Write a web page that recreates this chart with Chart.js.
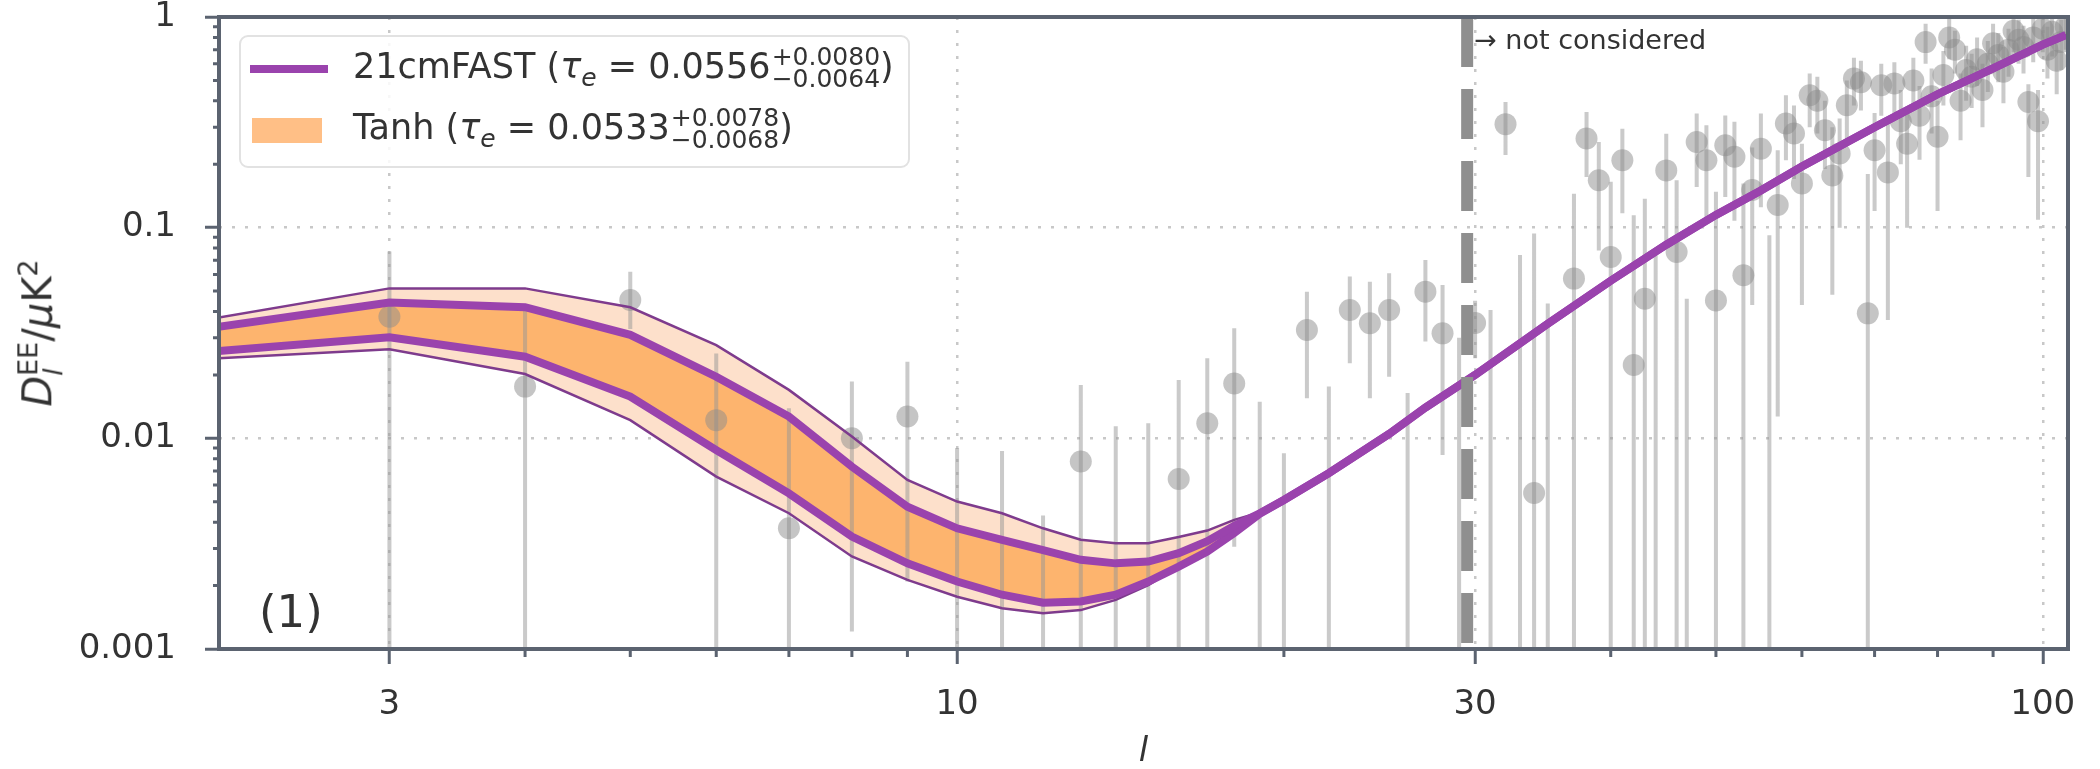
<!DOCTYPE html>
<html>
<head>
<meta charset="utf-8">
<script src="https://cdn.jsdelivr.net/npm/chart.js@4.4.1/dist/chart.umd.min.js"></script>
<style>
  html, body { margin: 0; padding: 0; background: #fff; }
  #marco { position: relative; width: 2100px; height: 769px; overflow: hidden; }
  #grafico { position: absolute; left: 0; top: 0; }
  .txt { position: absolute; font-family: 'DejaVu Sans'; color: #333; white-space: nowrap; line-height: 1.2; }
  #leyenda { position: absolute; width: 671px; height: 133px; box-sizing: border-box;
             border: 2px solid #e2e2e2; border-radius: 9px; background: rgba(255,255,255,0.85); }
  .fila { position: absolute; left: 0; height: 60px; display: flex; align-items: center;
          font-family: 'DejaVu Sans'; font-size: 35px; color: #333; white-space: nowrap; }
  .linea { display: inline-block; width: 78px; height: 8px; background: #9a43ad; margin: 0 25px 0 9px; }
  .parche { display: inline-block; width: 70px; height: 25px; background: #ffbf86; margin: 0 31px 0 11px; }
  .pm { display: inline-flex; flex-direction: column; font-size: 25px; line-height: 22px;
        vertical-align: middle; margin-left: 1px; }
  sub { font-size: 25px; }
  #ytitulo { position: absolute; font-family: 'DejaVu Sans'; font-size: 40px; color: #333; white-space: nowrap;
             transform: translate(-50%, -50%) rotate(-90deg); line-height: 1; }
  .pila { display: inline-flex; flex-direction: column; font-size: 27px; line-height: 25px; vertical-align: middle; }
  #ytitulo sup { font-size: 27px; }
</style>
</head>
<body>
<div id="marco">
  <canvas id="grafico" width="2100" height="769"></canvas>
  <div id="leyenda">
    <div class="fila" style="top:2px"><span class="linea"></span><span>21cmFAST (<i>τ</i><sub><i>e</i></sub> = 0.0556<span class="pm"><span>+0.0080</span><span>−0.0064</span></span>)</span></div>
    <div class="fila" style="top:63px"><span class="parche"></span><span>Tanh (<i>τ</i><sub><i>e</i></sub> = 0.0533<span class="pm"><span>+0.0078</span><span>−0.0068</span></span>)</span></div>
  </div>
  <div id="ytitulo"><i>D</i><span class="pila"><span>EE</span><span><i>l</i></span></span>/<i>μ</i>K<sup>2</sup></div>
  <div class="txt" id="nota" style="font-size:27px">→ not considered</div>
  <div class="txt" id="panel" style="font-size:45px">(1)</div>
</div>
<script>
// Modelos: multipolos y bandas (limites interiores = lineas gruesas, exteriores = lineas finas)
const modeloL = [2, 3, 4, 5, 6, 7, 8, 9, 10, 11, 12, 13, 14, 15, 16, 17, 18, 19, 20, 22, 25, 27, 30, 35, 40, 45, 50, 55, 60, 70, 80, 90, 100, 105];
const interiorAlto = [0.0328, 0.0441, 0.0419, 0.0310, 0.0196, 0.01268, 0.00734, 0.00474, 0.00374, 0.00330, 0.00295, 0.00265, 0.00255, 0.00260, 0.00285, 0.00325, 0.00385, 0.00441, 0.0051, 0.00683, 0.0105, 0.0140, 0.0200, 0.035, 0.056, 0.083, 0.115, 0.150, 0.195, 0.30, 0.43, 0.57, 0.74, 0.82];
const interiorBajo = [0.0255, 0.0302, 0.0244, 0.0158, 0.0088, 0.00548, 0.00342, 0.00255, 0.00209, 0.00181, 0.00166, 0.00168, 0.00181, 0.00209, 0.00246, 0.00290, 0.00355, 0.00438, 0.0051, 0.00683, 0.0105, 0.0140, 0.0200, 0.035, 0.056, 0.083, 0.115, 0.150, 0.195, 0.30, 0.43, 0.57, 0.74, 0.82];
const exteriorAlto = [0.0360, 0.0515, 0.0515, 0.0419, 0.0277, 0.01698, 0.01019, 0.00635, 0.00501, 0.00441, 0.00374, 0.00330, 0.00318, 0.00318, 0.00340, 0.00365, 0.0041, 0.00445, 0.0051, 0.00683, 0.0105, 0.0140, 0.0200, 0.035, 0.056, 0.083, 0.115, 0.150, 0.195, 0.30, 0.43, 0.57, 0.74, 0.82];
const exteriorBajo = [0.0237, 0.0265, 0.0202, 0.0122, 0.00658, 0.00441, 0.00275, 0.00213, 0.00177, 0.00156, 0.00148, 0.00153, 0.00171, 0.00201, 0.00246, 0.00290, 0.00355, 0.00438, 0.0051, 0.00683, 0.0105, 0.0140, 0.0200, 0.035, 0.056, 0.083, 0.115, 0.150, 0.195, 0.30, 0.43, 0.57, 0.74, 0.82];

// Datos medidos (null = punto fuera del grafico); PISO = barra que sigue por debajo del eje
const PISO = 1e-4;
const puntosL = [3, 4, 5, 6, 7, 8, 9, 10, 11, 12, 13, 14, 15, 16, 17, 18, 19, 20, 21, 22, 23, 24, 25, 26, 27, 28, 29, 30, 31, 32, 33, 34, 35,
  37, 38, 39, 40, 41, 42, 43, 44, 45, 46, 47, 48, 49, 50, 51, 52, 53, 54, 55, 56, 57, 58, 59, 60, 61, 62, 63, 64, 65, 66, 67, 68, 69, 70,
  71, 72, 73, 74, 75, 76, 77, 78, 79, 80, 81, 82, 83, 84, 85, 86, 87, 88, 89, 90, 91, 92, 93, 94, 95, 96, 97, 98, 99, 100, 101, 102, 103, 104, 105];
const puntosVal = [0.0378, 0.0176, 0.0454, 0.0122, 0.00374, 0.0100, 0.0127, null, null, null, 0.00776, null, null, 0.00641, 0.0118, 0.0182, null, null, 0.0327, null, 0.0407, 0.0352, 0.0407, null, 0.0497, 0.0315, null, 0.0353, null, 0.31, null, 0.0055, null,
  0.0573, 0.265, 0.168, 0.0726, 0.209, 0.0223, 0.046, null, 0.187, 0.0767, null, 0.255, 0.209, 0.0451, 0.246, 0.217, 0.0594, 0.151, 0.237, null, 0.128, 0.312, 0.28, 0.162, 0.425, 0.40, 0.29, 0.177, 0.225, 0.381, 0.51, 0.49, 0.0392, 0.233,
  0.474, 0.183, 0.483, 0.32, 0.25, 0.50, 0.34, 0.76, 0.42, 0.27, 0.53, 0.80, 0.70, 0.40, 0.56, 0.52, 0.63, 0.45, 0.60, 0.75, 0.66, 0.55, 0.70, 0.86, 0.78, 0.72, 0.395, 0.80, 0.32, 0.88, 0.70, 0.85, 0.62, 0.76, 0.90];
const puntosAlto = [0.077, 0.042, 0.0618, 0.0253, 0.0139, 0.0186, 0.0231, 0.0090, 0.0087, 0.0043, 0.0179, 0.0114, 0.0118, 0.0189, 0.024, 0.0333, 0.0149, 0.0085, 0.0497, 0.0176, 0.0586, 0.0554, 0.0607, 0.0164, 0.0703, 0.0535, 0.030, 0.045, 0.0407, 0.395, 0.0741, 0.0937, 0.0436,
  0.145, 0.354, 0.255, 0.165, 0.295, 0.1145, 0.137, 0.074, 0.279, 0.168, 0.046, 0.348, 0.306, 0.148, 0.341, 0.318, 0.162, 0.24, 0.348, 0.092, 0.233, 0.425, 0.38, 0.25, 0.54, 0.52, 0.40, 0.30, 0.33, 0.50, 0.64, 0.62, 0.18, 0.35,
  0.60, 0.33, 0.61, 0.45, 0.37, 0.64, 0.47, 0.93, 0.57, 0.40, 0.69, 0.98, 0.86, 0.54, 0.73, 0.67, 0.80, 0.60, 0.77, 0.93, 0.84, 0.72, 0.88, 1.05, 0.97, 0.91, 0.48, 1.0, 0.45, 1.08, 0.90, 1.06, 0.82, 0.97, 1.1];
const puntosBajo = [PISO, PISO, 0.033, PISO, PISO, 0.00121, 0.00209, PISO, PISO, PISO, PISO, PISO, PISO, PISO, PISO, 0.00306, PISO, PISO, 0.0155, PISO, 0.0227, 0.0155, 0.0196, PISO, 0.0288, 0.00834, PISO, 0.024, PISO, 0.221, PISO, PISO, PISO,
  PISO, 0.174, 0.078, PISO, 0.117, PISO, PISO, PISO, 0.081, PISO, PISO, 0.156, 0.1045, PISO, 0.140, 0.108, PISO, 0.043, 0.125, PISO, 0.0127, 0.209, 0.17, 0.043, 0.30, 0.28, 0.19, 0.048, 0.10, 0.26, 0.38, 0.36, PISO, 0.12,
  0.34, 0.0365, 0.35, 0.20, 0.10, 0.37, 0.21, 0.60, 0.28, 0.12, 0.38, 0.63, 0.54, 0.26, 0.40, 0.37, 0.47, 0.30, 0.44, 0.58, 0.49, 0.39, 0.52, 0.68, 0.60, 0.54, 0.174, 0.61, 0.109, 0.68, 0.51, 0.65, 0.43, 0.56, 0.70];

// Ejes
const corteL = 29.5;
const xTicks = [3, 10, 30, 100];
const xEtiquetas = ['3', '10', '30', '100'];
const xMenores = [4, 5, 6, 7, 8, 9, 20, 40, 50, 60, 70, 80, 90];
const yTicks = [1, 0.1, 0.01, 0.001];
const yEtiquetas = ['1', '0.1', '0.01', '0.001'];
const yMenores = [0.002, 0.003, 0.004, 0.005, 0.006, 0.007, 0.008, 0.009,
  0.02, 0.03, 0.04, 0.05, 0.06, 0.07, 0.08, 0.09,
  0.2, 0.3, 0.4, 0.5, 0.6, 0.7, 0.8, 0.9];

const colorEje = '#5b6370';
const morado = '#9a43ad';
const moradoFino = '#7e3b8d';

function serie(ls, vals) {
  return ls.map((l, i) => ({ x: l, y: vals[i] }));
}

// barras de error: segmentos separados por huecos
const datosBarras = [];
puntosL.forEach((l, i) => {
  if (puntosAlto[i] === null) return;
  datosBarras.push({ x: l, y: puntosBajo[i] }, { x: l, y: puntosAlto[i] }, { x: l, y: null });
});

function linea(datos, color, ancho, orden, extra) {
  return Object.assign({ data: datos, borderColor: color, borderWidth: ancho, pointRadius: 0, fill: false, order: orden, clip: 0 }, extra || {});
}

// ticks menores y marco del grafico
const marcoPlugin = {
  id: 'marco',
  afterDraw(chart) {
    const { ctx, chartArea: a, scales: { x, y } } = chart;
    ctx.save();
    ctx.strokeStyle = colorEje;
    ctx.lineWidth = 3;
    ctx.beginPath();
    for (const v of xMenores) {
      const px = x.getPixelForValue(v);
      ctx.moveTo(px, a.bottom);
      ctx.lineTo(px, a.bottom + 8);
    }
    for (const v of yMenores) {
      const py = y.getPixelForValue(v);
      ctx.moveTo(a.left, py);
      ctx.lineTo(a.left - 6, py);
    }
    ctx.stroke();
    ctx.lineWidth = 4;
    ctx.strokeRect(a.left, a.top, a.right - a.left, a.bottom - a.top);
    ctx.restore();
  }
};

const ctx = document.getElementById('grafico').getContext('2d');
const chart = new Chart(ctx, {
  type: 'line',
  data: {
    datasets: [
      linea([{ x: corteL, y: 1 }, { x: corteL, y: PISO }], '#8f8f8f', 12, 0, { borderDash: [50, 22] }),
      linea(serie(modeloL, interiorAlto), morado, 8, 1),
      linea(serie(modeloL, interiorBajo), morado, 8, 1),
      linea(serie(modeloL, exteriorAlto), moradoFino, 2.5, 2),
      linea(serie(modeloL, exteriorBajo), moradoFino, 2.5, 2),
      linea(serie(puntosL, puntosVal), 'transparent', 0, 3, {
        showLine: false, pointRadius: 11, pointBackgroundColor: 'rgba(140,140,140,0.5)', pointBorderColor: 'transparent', pointBorderWidth: 0
      }),
      linea(datosBarras, 'rgba(150,150,150,0.5)', 4, 4, { spanGaps: false }),
      linea(serie(modeloL, interiorAlto), 'transparent', 0, 5, { fill: '+1', backgroundColor: '#fdb46e' }),
      linea(serie(modeloL, interiorBajo), 'transparent', 0, 5),
      linea(serie(modeloL, exteriorAlto), 'transparent', 0, 6, { fill: '+1', backgroundColor: '#fde0cb' }),
      linea(serie(modeloL, exteriorBajo), 'transparent', 0, 6)
    ]
  },
  options: {
    responsive: false,
    animation: false,
    devicePixelRatio: 1,
    layout: { padding: { left: 0, right: 32, top: 17, bottom: 0 } },
    plugins: { legend: { display: false }, tooltip: { enabled: false } },
    scales: {
      x: {
        type: 'logarithmic', min: 2.09, max: 105.5,
        afterBuildTicks: eje => { eje.ticks = xTicks.map(v => ({ value: v })); },
        afterFit: eje => { eje.height = 120; eje.paddingLeft = 0; eje.paddingRight = 0; },
        ticks: {
          callback: (v, i) => xEtiquetas[i], autoSkip: false, maxRotation: 0,
          font: { family: 'DejaVu Sans', size: 34 }, color: '#333', padding: 21
        },
        grid: { color: '#c8c8c8', lineWidth: 2.5, tickLength: 15, tickColor: colorEje, tickWidth: 3 },
        border: { display: false, dash: [3, 10] },
        title: {
          display: true, text: 'l', color: '#333',
          font: { family: 'DejaVu Sans', size: 34, style: 'italic', lineHeight: 1 },
          padding: { top: 0, bottom: 0 }
        }
      },
      y: {
        type: 'logarithmic', min: 0.001, max: 1,
        afterBuildTicks: eje => { eje.ticks = yTicks.map(v => ({ value: v })); },
        afterFit: eje => { eje.width = 219; eje.paddingTop = 0; eje.paddingBottom = 0; },
        ticks: {
          callback: (v, i) => yEtiquetas[i], autoSkip: false,
          font: { family: 'DejaVu Sans', size: 34 }, color: '#333', padding: 29
        },
        grid: { color: '#c8c8c8', lineWidth: 2.5, tickLength: 14, tickColor: colorEje, tickWidth: 3 },
        border: { display: false, dash: [3, 10] }
      }
    }
  },
  plugins: [marcoPlugin]
});

// colocar los textos superpuestos segun el area del grafico
const area = chart.chartArea;
const leyenda = document.getElementById('leyenda');
leyenda.style.left = (area.left + 20) + 'px';
leyenda.style.top = (area.top + 18) + 'px';
const nota = document.getElementById('nota');
nota.style.left = (chart.scales.x.getPixelForValue(corteL) + 7) + 'px';
nota.style.top = (area.top + 7) + 'px';
const panel = document.getElementById('panel');
panel.style.left = (area.left + 40) + 'px';
panel.style.top = (area.bottom - 64) + 'px';
const ytitulo = document.getElementById('ytitulo');
ytitulo.style.left = '40px';
ytitulo.style.top = ((area.top + area.bottom) / 2) + 'px';
</script>
</body>
</html>
